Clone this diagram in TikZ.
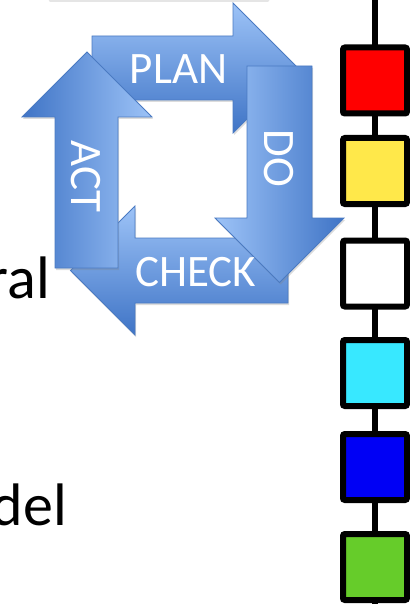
\documentclass[tikz,border=0pt]{standalone}
\usepackage{fontspec}
\newfontfamily\carlito{Carlito}
\usetikzlibrary{shadows}
\definecolor{alight}{HTML}{9DC3F7}
\definecolor{adark}{HTML}{3F74C6}
\definecolor{aedge}{HTML}{4A7AC2}
\definecolor{cred}{HTML}{FF0000}
\definecolor{cyellow}{HTML}{FFE84A}
\definecolor{cwhite}{HTML}{FFFFFF}
\definecolor{ccyan}{HTML}{38E8FF}
\definecolor{cblue}{HTML}{0000F5}
\definecolor{cgreen}{HTML}{66CC2A}
\begin{document}
\begin{tikzpicture}[x=1pt,y=-1pt,
  bigarrow/.style={draw=aedge, line width=0.8pt, line join=miter,
    drop shadow={opacity=0.28, shadow xshift=1pt, shadow yshift=-2pt}},
  alabel/.style={text=white, inner sep=0pt, font=\carlito\fontsize{45}{54}\selectfont},
  blabel/.style={text=black, inner sep=0pt, anchor=base east, font=\carlito\fontsize{60}{72}\selectfont},
  sqbox/.style={draw=black, line width=6pt, rounded corners=2pt, minimum width=64pt, minimum height=66pt, inner sep=0pt,
    drop shadow={opacity=0.35, shadow xshift=-3pt, shadow yshift=-2pt}},
  chain/.style={draw=black, line width=6pt}]
\useasboundingbox (0,0) rectangle (409,604);
% faint shadow at the top edge
\draw[black!10, line width=2.5pt, line cap=round] (50,0.5) -- (268,0.5);
% vertical chain of squares
\coordinate (ltop) at (375,-5);
\coordinate (lbot) at (375,610);
\draw[chain] (ltop) -- (lbot);
\node[sqbox, fill=cred]    (s1) at (375,80.5) {};
\node[sqbox, fill=cyellow] (s2) at (375,171)  {};
\node[sqbox, fill=cwhite]  (s3) at (375,273.5) {};
\node[sqbox, fill=ccyan]   (s4) at (375,373)  {};
\node[sqbox, fill=cblue]   (s5) at (375,467)  {};
\node[sqbox, fill=cgreen]  (s6) at (375,567)  {};
% left text fragments
\node[blabel] (tral) at (50,298) {ral};
\node[blabel] (tdel) at (67,525) {del};
% PDCA arrows
\path[bigarrow, top color=alight, bottom color=adark]
  (92,36) -- (233,36) -- (233,3) -- (298,68) -- (233,133) -- (233,100) -- (92,100) -- cycle;
\path[bigarrow, top color=alight, bottom color=adark]
  (288,238) -- (135,238) -- (135,206) -- (70.5,270.5) -- (135,335) -- (135,303) -- (288,303) -- cycle;
\path[bigarrow, left color=adark, right color=alight]
  (55,268) -- (55,117) -- (22,117) -- (87,52) -- (152,117) -- (118,117) -- (118,268) -- cycle;
\path[bigarrow, left color=alight, right color=adark]
  (247,66) -- (247,218) -- (215,218) -- (279.5,282.5) -- (344,218) -- (312,218) -- (312,66) -- cycle;
% labels
\node[alabel] (lplan) at (178.5,69) {PLAN};
\node[alabel, rotate=-90] (ldo) at (279,158.5) {DO};
\node[alabel] (lcheck) at (195.5,272.5) {CHECK};
\node[alabel, rotate=-90] (lact) at (86,176.5) {ACT};
\end{tikzpicture}
\end{document}
